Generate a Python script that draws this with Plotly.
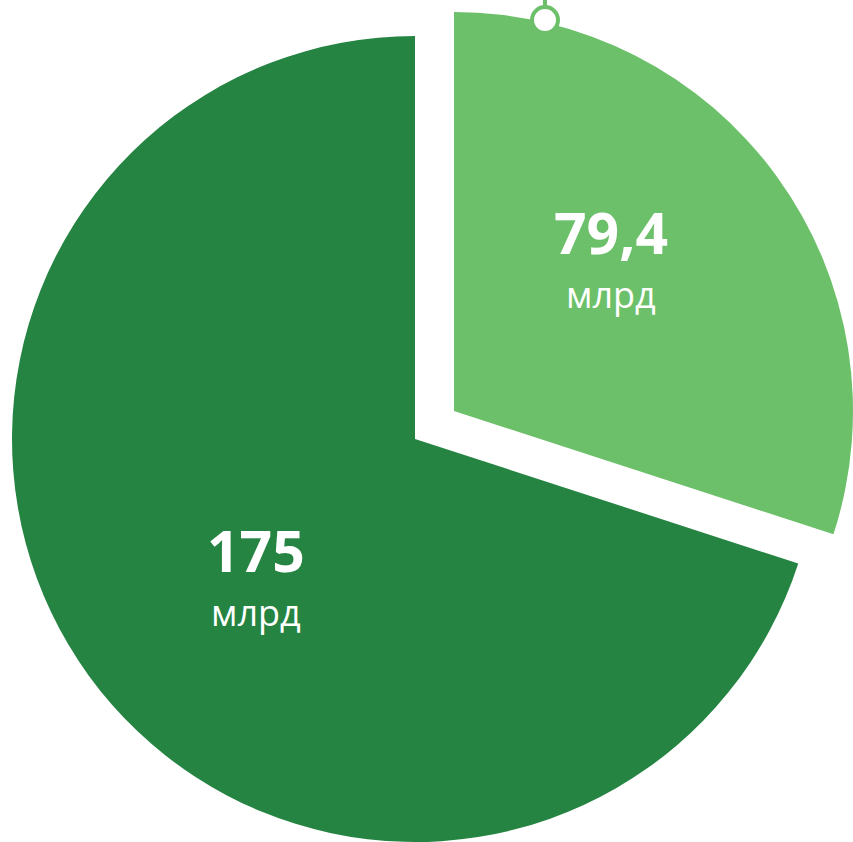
import math
import plotly.graph_objects as go

# Data
categories = ["Часть A", "Часть B"]
values = [79.4, 175]            # values shown in the labels (млрд)
wedge_shares = [30, 70]         # slice shares as drawn in the reference (~108° wedge)
unit = "млрд"
colors = ["#6cc069", "#258442"]
labels = [f"{v:g}".replace(".", ",") for v in values]

W, H = 853, 842
TRANSPARENT = "rgba(0,0,0,0)"

# pie geometry (paper domains): base pie and exploded slice
BASE_DOM = dict(x=[12 / W, 818 / W], y=[0 / H, 806 / H])
EXPL_DOM = dict(x=[55 / W, 1.0], y=[32 / H, 830 / H])
LABEL_R_FRAC = 0.535
LABEL_ANGLE_SHIFT = -6.5  # degrees
NUMBER_DY = -35  # px, number line relative to label block centre
UNIT_DY = 28     # px, unit line relative to label block centre
FONT = "Open Sans, Lato, sans-serif"


def dom_center_radius(dom):
    x0, x1 = dom["x"][0] * W, dom["x"][1] * W
    y0, y1 = (1 - dom["y"][1]) * H, (1 - dom["y"][0]) * H
    return (x0 + x1) / 2, (y0 + y1) / 2, min(x1 - x0, y1 - y0) / 2


common = dict(
    labels=categories,
    values=wedge_shares,
    customdata=values,
    sort=False,
    direction="clockwise",
    rotation=0,
    textinfo="none",
    showlegend=False,
    hovertemplate="%{label}: %{customdata} " + unit + "<extra></extra>",
)

fig = go.Figure()
fig.add_trace(
    go.Pie(**common, marker=dict(colors=[TRANSPARENT, colors[1]], line=dict(width=0)),
           domain=BASE_DOM)
)
fig.add_trace(
    go.Pie(**common, marker=dict(colors=[colors[0], TRANSPARENT], line=dict(width=0)),
           domain=EXPL_DOM)
)

# labels placed from slice geometry
total = sum(wedge_shares)
cum = 0
for i, v in enumerate(wedge_shares):
    mid = (cum + v / 2) / total * 360 + LABEL_ANGLE_SHIFT
    cum += v
    cx, cy, r = dom_center_radius(EXPL_DOM if i == 0 else BASE_DOM)
    px = cx + LABEL_R_FRAC * r * math.sin(math.radians(mid))
    py = cy - LABEL_R_FRAC * r * math.cos(math.radians(mid))
    fig.add_annotation(
        x=px / W, y=1 - (py + NUMBER_DY) / H, xref="paper", yref="paper",
        xanchor="center", yanchor="middle", showarrow=False,
        text=f"<b>{labels[i]}</b>",
        font=dict(family=FONT, size=57, color="white"),
    )
    fig.add_annotation(
        x=px / W, y=1 - (py + UNIT_DY) / H, xref="paper", yref="paper",
        xanchor="center", yanchor="middle", showarrow=False,
        text=unit,
        font=dict(family=FONT, size=36, color="white"),
    )

# decorative marker at top of exploded slice
fig.add_shape(
    type="line", xref="paper", yref="paper",
    x0=545 / W, x1=545 / W, y0=1.0, y1=(H - 10) / H,
    line=dict(color="#6cc069", width=4),
)
fig.add_shape(
    type="circle", xref="paper", yref="paper",
    xsizemode="pixel", ysizemode="pixel",
    xanchor=545 / W, yanchor=(H - 20) / H,
    x0=-13, x1=13, y0=-13, y1=13,
    fillcolor="white", line=dict(color="#6cc069", width=4),
)

fig.update_layout(
    width=W,
    height=H,
    margin=dict(l=0, r=0, t=0, b=0),
    paper_bgcolor="white",
    plot_bgcolor="white",
)

fig.write_html(
    "out.html",
    config={"displayModeBar": False},
    post_script="document.body.style.margin='0px';document.body.style.overflow='hidden';",
)
